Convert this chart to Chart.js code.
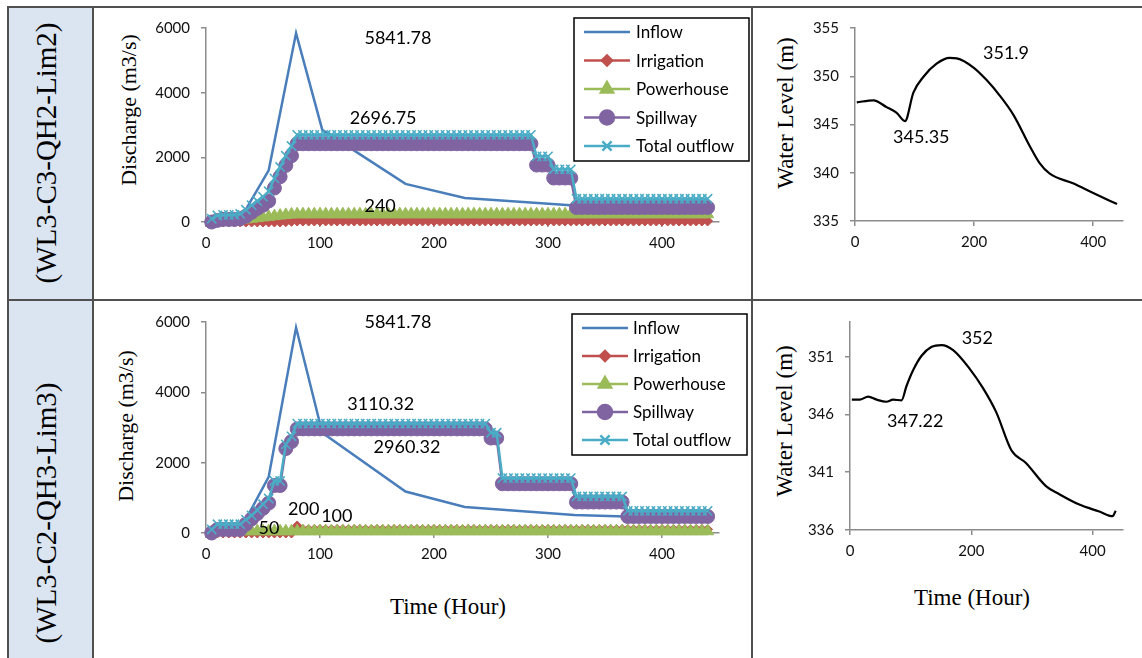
<!DOCTYPE html>
<html><head><meta charset="utf-8">
<script src="https://cdn.jsdelivr.net/npm/chart.js@4.4.1/dist/chart.umd.min.js"></script>
<style>
html,body{margin:0;padding:0;background:#fff;width:1142px;height:658px;overflow:hidden;}
#wrap{position:relative;width:1142px;height:658px;}
.ln{position:absolute;background:#505050;}
canvas{position:absolute;}
.rot{position:absolute;transform:translate(-50%,-50%) rotate(-90deg);white-space:nowrap;font-family:'Liberation Serif','Times New Roman',serif;color:#000;}
.txt{position:absolute;transform:translate(-50%,-50%);white-space:nowrap;font-family:'Liberation Serif','Times New Roman',serif;color:#000;}
</style></head>
<body><div id="wrap">
<div style="position:absolute;left:8px;top:7px;width:85px;height:651px;background:#dbe5f1;"></div>
<div class="ln" style="left:7px;top:6px;width:1135px;height:2px;"></div>
<div class="ln" style="left:7px;top:6px;width:2px;height:652px;"></div>
<div class="ln" style="left:92px;top:6px;width:2px;height:652px;"></div>
<div class="ln" style="left:751px;top:6px;width:1.5px;height:652px;"></div>
<div class="ln" style="left:7px;top:299px;width:1135px;height:2px;"></div>

<div class="rot" style="left:46px;top:153px;font-size:29px;">(WL3-C3-QH2-Lim2)</div>
<div class="rot" style="left:46px;top:513px;font-size:29px;">(WL3-C2-QH3-Lim3)</div>

<div class="rot" style="left:129px;top:110px;font-size:22px;">Discharge (m3/s)</div>
<div class="rot" style="left:126px;top:426px;font-size:22px;">Discharge (m3/s)</div>
<div class="rot" style="left:786px;top:113px;font-size:23px;">Water Level (m)</div>
<div class="rot" style="left:785px;top:421px;font-size:23px;">Water Level (m)</div>
<div class="txt" style="left:448px;top:607px;font-size:23px;">Time (Hour)</div>
<div class="txt" style="left:972px;top:598px;font-size:23px;">Time (Hour)</div>

<canvas id="cA" width="600" height="262" style="left:150px;top:8px;width:600px;height:262px;"></canvas>
<canvas id="cB" width="600" height="260" style="left:150px;top:302px;width:600px;height:260px;"></canvas>
<canvas id="cC" width="340" height="262" style="left:800px;top:8px;width:340px;height:262px;"></canvas>
<canvas id="cD" width="340" height="260" style="left:800px;top:302px;width:340px;height:260px;"></canvas>
</div>
<script>
// ---------------- DATA ----------------
const seriesNames = ['Inflow','Irrigation','Powerhouse','Spillway','Total outflow'];

const hours = [5,10,15,20,25,30,35,40,45,50,55,60,65,70,75,80,85,90,95,100,
105,110,115,120,125,130,135,140,145,150,155,160,165,170,175,180,185,190,195,200,
205,210,215,220,225,230,235,240,245,250,255,260,265,270,275,280,285,290,295,300,
305,310,315,320,325,330,335,340,345,350,355,360,365,370,375,380,385,390,395,400,
405,410,415,420,425,430,435,440];

const inflowHours  = [5,31,55,79,102,175,227,323,368,440];
const inflowValues = [100,150,1600,5841.78,2850,1180,740,510,470,430];

// Row 1 : WL3-C3-QH2-Lim2
const topIrrigation = [0,0,0,0,0,0,0,0,0,0,0,0,0,10,20,
30,30,30,30,30,30,30,30,30,30,
30,30,30,30,30,30,30,30,30,30,
30,30,30,30,30,30,30,30,30,30,
30,30,30,30,30,30,30,30,30,30,
30,30,30,30,30,30,30,30,30,30,
30,30,30,30,30,30,30,30,30,30,
30,30,30,30,30,30,30,30,30,30,
30,30,30];
const topPowerhouse = [0,10,20,30,40,60,80,100,120,140,160,180,200,220,235,
240,240,240,240,240,240,240,240,240,240,
240,240,240,240,240,240,240,240,240,240,
240,240,240,240,240,240,240,240,240,240,
240,240,240,240,240,240,240,240,240,240,
240,240,240,240,240,240,240,240,240,240,
240,240,240,240,240,240,240,240,240,240,
240,240,240,240,240,240,240,240,240,240,
240,240,240];
const topSpillway = [0,50,80,80,80,100,180,300,420,520,650,1050,1400,1750,2050,
2420,2420,2420,2420,2420,2420,2420,2420,2420,2420,
2420,2420,2420,2420,2420,2420,2420,2420,2420,2420,
2420,2420,2420,2420,2420,2420,2420,2420,2420,2420,
2420,2420,2420,2420,2420,2420,2420,2420,2420,2420,
2420,2420,
1760,1760,1760,
1360,1360,1360,1360,
450,450,450,450,450,450,450,450,450,450,
450,450,450,450,450,450,450,450,450,450,
450,450,450,450];
const topTotal = [100,200,220,220,220,250,380,520,650,780,950,1350,1700,2050,2350,
2696.75,2696.75,2696.75,2696.75,2696.75,2696.75,2696.75,2696.75,2696.75,2696.75,
2696.75,2696.75,2696.75,2696.75,2696.75,2696.75,2696.75,2696.75,2696.75,2696.75,
2696.75,2696.75,2696.75,2696.75,2696.75,2696.75,2696.75,2696.75,2696.75,2696.75,
2696.75,2696.75,2696.75,2696.75,2696.75,2696.75,2696.75,2696.75,2696.75,2696.75,
2696.75,2696.75,
2030,2030,2030,
1630,1630,1630,1630,
720,720,720,720,720,720,720,720,720,720,
720,720,720,720,720,720,720,720,720,720,
720,720,720,720];

// Row 2 : WL3-C2-QH3-Lim3
const botIrrigation = [0,0,0,0,0,0,0,0,0,0,0,0,0,0,0,
200,
100,100,100,100,100,100,100,100,100,100,
100,100,100,100,100,100,100,100,100,100,
100,100,100,100,100,100,100,100,100,100,
100,100,100,100,100,100,100,100,100,100,
100,100,100,100,100,100,100,100,100,100,
100,100,100,100,100,100,100,100,100,100,
100,100,100,100,100,100,100,100,100,100,
100,100];
const botPowerhouse = [0,20,30,40,50,
50,50,50,50,50,50,50,50,50,50,
50,50,50,50,50,50,50,50,50,50,
50,50,50,50,50,50,50,50,50,50,
50,50,50,50,50,50,50,50,50,50,
50,50,50,50,50,50,50,50,50,50,
50,50,50,50,50,50,50,50,50,50,
50,50,50,50,50,50,50,50,50,50,
50,50,50,50,50,50,50,50,50,50,
50,50,50];
const botSpillway = [0,100,100,100,100,100,250,400,550,700,850,1350,1350,2400,2600,
2960.32,2960.32,2960.32,2960.32,2960.32,2960.32,2960.32,2960.32,2960.32,2960.32,
2960.32,2960.32,2960.32,2960.32,2960.32,2960.32,2960.32,2960.32,2960.32,2960.32,
2960.32,2960.32,2960.32,2960.32,2960.32,2960.32,2960.32,2960.32,2960.32,2960.32,
2960.32,2960.32,2960.32,2960.32,
2700,2700,
1400,1400,1400,1400,1400,1400,1400,1400,1400,1400,
1400,1400,1400,
880,880,880,880,880,880,880,880,880,
470,470,470,470,470,470,470,470,470,470,
470,470,470,470,470];
const botTotal = [100,250,250,250,250,250,380,500,650,820,980,1480,1480,2520,2750,
3110.32,3110.32,3110.32,3110.32,3110.32,3110.32,3110.32,3110.32,3110.32,3110.32,
3110.32,3110.32,3110.32,3110.32,3110.32,3110.32,3110.32,3110.32,3110.32,3110.32,
3110.32,3110.32,3110.32,3110.32,3110.32,3110.32,3110.32,3110.32,3110.32,3110.32,
3110.32,3110.32,3110.32,3110.32,
2850,2850,
1560,1560,1560,1560,1560,1560,1560,1560,1560,1560,
1560,1560,1560,
1040,1040,1040,1040,1040,1040,1040,1040,1040,
630,630,630,630,630,630,630,630,630,630,
630,630,630,630,630];

// Water level
const wlTopHours  = [3,31,53,70,84,98,115,137,159,171,199,221,243,266,294,310,327,366,400,440];
const wlTopValues = [347.3,347.5,346.8,346.2,345.35,348.3,349.95,351.3,351.9,351.85,350.9,349.6,348,346,342.7,341,339.9,338.9,337.9,336.75];
const wlBotHours  = [3,16,30,44,60,71,85,93,104,118,134,151,170,197,219,241,266,290,323,345,378,411,433,438];
const wlBotValues = [347.28,347.28,347.55,347.28,347.1,347.28,347.22,348.44,349.83,351.08,351.83,352,351.56,349.97,348.3,346.2,342.9,341.8,339.8,339.1,338.2,337.6,337.2,337.67];

// Tick labels
const timeTicks = [0,100,200,300,400];
const timeTicksWL = [0,200,400];
const dischargeTicks = [0,2000,4000,6000];
const wlTopTicks = [335,340,345,350,355];
const wlBotTicks = [336,341,346,351];

// Point annotations (text, hour, value)
const labelsA = [['5841.78',139,5700],['2696.75',126,3200],['240',139,500]];
const labelsB = [['5841.78',139,6000],['3110.32',124,3650],['2960.32',147,2450],['200',72,680],['100',101,470],['50',46,130]];
const labelsC = [['351.9',215,352.4],['345.35',64,343.7]];
const labelsD = [['352',184,352.6],['347.22',61,345.4]];

// ---------------- CHECK ----------------
[topIrrigation,topPowerhouse,topSpillway,topTotal,botIrrigation,botPowerhouse,botSpillway,botTotal].forEach((a,i)=>{
  if (a.length !== hours.length) throw new Error('length mismatch '+i+': '+a.length);
});

// ---------------- STYLE / PLUGINS ----------------
const COLORS = {Inflow:'#4a7ebb', Irrigation:'#c0504d', Powerhouse:'#9bbb59', Spillway:'#8064a2', 'Total outflow':'#4bacc6'};
const TICKFONT = {family:'Lato, "Open Sans", sans-serif', size:15};
const LABELFONT = '18px Lato, "Open Sans", sans-serif';

function pts(xs, ys){ return xs.map((x,i)=>({x:x, y:ys[i]})); }

const textLabels = {
  id:'textLabels',
  afterDatasetsDraw(chart, args, opts){
    const ctx = chart.ctx, sx = chart.scales.x, sy = chart.scales.y;
    ctx.save();
    ctx.font = LABELFONT; ctx.fillStyle = '#000'; ctx.textAlign = 'left'; ctx.textBaseline = 'middle';
    (opts.items||[]).forEach(([t,x,y]) => ctx.fillText(t, sx.getPixelForValue(x), sy.getPixelForValue(y)));
    ctx.restore();
  }
};

const boxedLegend = {
  id:'boxedLegend',
  afterDraw(chart, args, o){
    if (!o || !o.box) return;
    const ctx = chart.ctx;
    ctx.save();
    ctx.fillStyle = '#fff';
    ctx.fillRect(o.box[0], o.box[1], o.box[2], o.box[3]);
    ctx.lineWidth = 1.5; ctx.strokeStyle = '#000';
    ctx.strokeRect(o.box[0], o.box[1], o.box[2], o.box[3]);
    ctx.font = '17px Lato, "Open Sans", sans-serif'; ctx.textBaseline = 'middle'; ctx.textAlign = 'left';
    seriesNames.forEach((name,i)=>{
      const ds = chart.data.datasets.find(d=>d.label===name);
      const y = o.box[1] + o.first + i*o.gap;
      const x0 = o.box[0] + o.line[0], x1 = o.box[0] + o.line[1];
      ctx.strokeStyle = ds.borderColor; ctx.lineWidth = 2.5;
      ctx.beginPath(); ctx.moveTo(x0,y); ctx.lineTo(x1,y); ctx.stroke();
      if (ds.pointRadius > 0) {
        ctx.fillStyle = ds.pointBackgroundColor; ctx.strokeStyle = ds.pointBorderColor || ds.borderColor;
        Chart.helpers.drawPoint(ctx, {pointStyle: ds.pointStyle, radius: ds.pointRadius, borderWidth: ds.pointBorderWidth, rotation:0}, (x0+x1)/2, y);
      }
      ctx.fillStyle = '#000';
      ctx.fillText(name, o.box[0] + o.text, y + 1);
    });
    ctx.restore();
  }
};

function scaleX(xTicks, w){ return {
  type:'linear', min:0, max:450,
  afterBuildTicks: s => { s.ticks = xTicks.map(v=>({value:v})); },
  afterFit: s => { s.height = w; },
  ticks:{font:TICKFONT, color:'#111', padding:7, maxRotation:0, callback: v => String(v)},
  grid:{drawOnChartArea:false, drawTicks:true, tickLength:5, color:'#8c8c8c', lineWidth:1.5},
  border:{display:true, color:'#8c8c8c', width:1.5}
};}
function scaleY(yTicks, min, max, w){ return {
  type:'linear', min:min, max:max,
  afterBuildTicks: s => { s.ticks = yTicks.map(v=>({value:v})); },
  afterFit: s => { s.width = w; },
  ticks:{font:TICKFONT, color:'#111', padding:11, callback: v => String(v)},
  grid:{drawOnChartArea:false, drawTicks:true, tickLength:5, color:'#8c8c8c', lineWidth:1.5},
  border:{display:true, color:'#8c8c8c', width:1.5}
};}

function dischargeDatasets(irr, pow, spill, tot){
  return [
    {label:'Inflow', data:pts(inflowHours, inflowValues), borderColor:COLORS.Inflow, borderWidth:2.5, pointRadius:0, order:5},
    {label:'Irrigation', data:pts(hours, irr), borderColor:COLORS.Irrigation, borderWidth:2.5, pointStyle:'rectRot', pointRadius:5, pointBackgroundColor:COLORS.Irrigation, pointBorderColor:COLORS.Irrigation, pointBorderWidth:1, order:4},
    {label:'Powerhouse', data:pts(hours, pow), borderColor:COLORS.Powerhouse, borderWidth:2.5, pointStyle:'triangle', pointRadius:7, pointBackgroundColor:COLORS.Powerhouse, pointBorderColor:COLORS.Powerhouse, pointBorderWidth:1, order:3},
    {label:'Spillway', data:pts(hours, spill), borderColor:COLORS.Spillway, borderWidth:2.5, pointStyle:'circle', pointRadius:7, pointBackgroundColor:COLORS.Spillway, pointBorderColor:COLORS.Spillway, pointBorderWidth:1, order:2},
    {label:'Total outflow', data:pts(hours, tot), borderColor:COLORS['Total outflow'], borderWidth:2.5, pointStyle:'crossRot', pointRadius:6.5, pointBackgroundColor:COLORS['Total outflow'], pointBorderColor:COLORS['Total outflow'], pointBorderWidth:1.6, order:1}
  ].map(d=>Object.assign(d,{showLine:true, clip:false, tension:0}));
}

function makeChart(id, datasets, scales, pad, labels, legend){
  return new Chart(document.getElementById(id), {
    type:'scatter',
    data:{datasets:datasets},
    options:{
      responsive:false, animation:false, devicePixelRatio:1,
      layout:{padding:pad},
      scales:scales,
      plugins:{legend:{display:false}, tooltip:{enabled:false}, textLabels:{items:labels}, boxedLegend:legend||{}}
    },
    plugins:[textLabels, boxedLegend]
  });
}

// Chart A: top discharge (canvas 150,8 600x262) area l206 t19 r719 b222
makeChart('cA', dischargeDatasets(topIrrigation, topPowerhouse, topSpillway, topTotal),
  {x:scaleX(timeTicks, 48), y:scaleY(dischargeTicks, 0, 6000, 56)},
  {left:0, top:11, right:31, bottom:0}, labelsA,
  {box:[424,10,175,143], first:14, gap:28.5, line:[10,56], text:62});

// Chart B: bottom discharge (canvas 150,302 600x260) area l206 t313 r719 b533
makeChart('cB', dischargeDatasets(botIrrigation, botPowerhouse, botSpillway, botTotal),
  {x:scaleX(timeTicks, 29), y:scaleY(dischargeTicks, 0, 6000, 56)},
  {left:0, top:11, right:31, bottom:0}, labelsB,
  {box:[422,12,175,141], first:14, gap:28, line:[10,56], text:61});

function wlDataset(xs, ys){
  return [{label:'WL', data:pts(xs, ys), borderColor:'#000', borderWidth:2.2, pointRadius:0, showLine:true, clip:false, tension:0.35, cubicInterpolationMode:'monotone'}];
}
// Chart C: top WL (canvas 800,8 340x262) area l855 t19 r1123 b221
makeChart('cC', wlDataset(wlTopHours, wlTopValues),
  {x:scaleX(timeTicksWL, 49), y:scaleY(wlTopTicks, 335, 355, 55)},
  {left:0, top:11, right:17, bottom:0}, labelsC, null);

// Chart D: bottom WL (canvas 800,302 340x260) area l850 t313 r1123 b530
makeChart('cD', wlDataset(wlBotHours, wlBotValues),
  {x:scaleX(timeTicksWL, 32), y:scaleY(wlBotTicks, 336, 354, 50)},
  {left:0, top:11, right:17, bottom:0}, labelsD, null);
</script>
</body></html>
